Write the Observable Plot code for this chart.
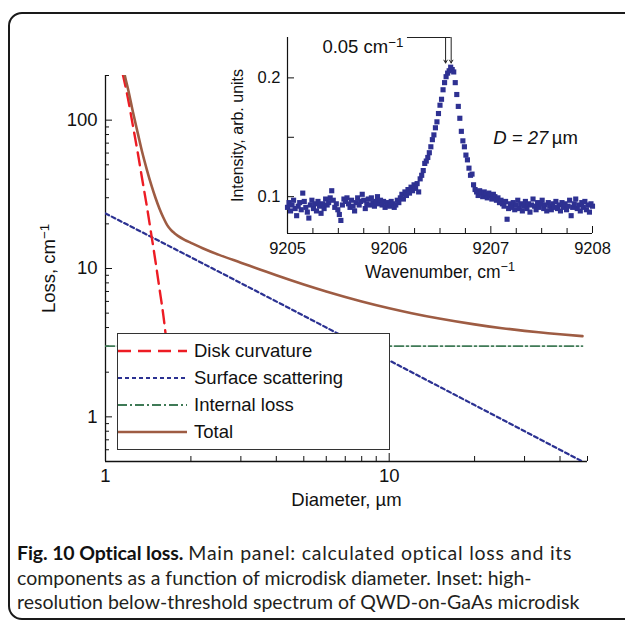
<!DOCTYPE html>
<html><head><meta charset="utf-8">
<script src="https://cdn.jsdelivr.net/npm/d3@7"></script>
<script src="https://cdn.jsdelivr.net/npm/@observablehq/plot@0.6"></script>
<style>
html,body{margin:0;padding:0;background:#fff;width:625px;height:622px;overflow:hidden;}
#wrap{position:relative;width:625px;height:622px;}
#frame{position:absolute;left:8px;top:12px;width:700px;height:604px;border:2px solid #1a1a1a;border-radius:14px;}
#main{position:absolute;left:0;top:0;}
#inset{position:absolute;left:200px;top:10px;}
#legend{position:absolute;left:117px;top:333px;}
#caption{position:absolute;left:17px;top:541px;white-space:nowrap;font-family:Lato,'Open Sans',sans-serif;font-size:19.5px;line-height:24.5px;color:#231f20;}
#caption b{font-weight:700;color:#111;letter-spacing:-0.1px;}
#caption .l1{letter-spacing:0.75px;}
</style></head>
<body><div id="wrap"><div id="frame"></div><div id="main"></div><div id="inset"></div><div id="legend"></div>
<div id="caption"><b>Fig. 10 Optical loss.</b> <span class="l1">Main panel: calculated optical loss and its</span><br>components as a function of microdisk diameter. Inset: high-<br>resolution below-threshold spectrum of QWD-on-GaAs microdisk</div></div>
<script>
// ---------- Main panel data ----------
const diskDiameter = [1.15, 1.2, 1.25, 1.3, 1.35, 1.4, 1.45, 1.5, 1.55, 1.6, 1.65, 1.7];
const diskLoss     = [205, 140, 91, 60, 39, 26, 17, 11.2, 7.3, 4.8, 2.9, 1.7];

const surfaceDiameter = [1, 2, 5, 10, 20, 48];
const surfaceLoss     = [23.5, 11.9, 4.8, 2.4, 1.2, 0.5];

const internalDiameter = [1, 48];
const internalLoss     = [3, 3];

const totalDiameter = [1.16, 1.18, 1.2, 1.25, 1.3, 1.35, 1.4, 1.45, 1.5, 1.55, 1.6, 1.65, 1.7, 1.75, 1.8, 1.9, 2, 2.2, 2.5, 3, 3.5, 4, 5, 6, 7, 8, 10, 12, 15, 20, 25, 30, 35, 40, 48];
const totalLoss     = [214, 186, 163, 113, 81.5, 59.8, 46.1, 36.6, 30.0, 25.3, 22.0, 19.6, 18.2, 17.3, 16.6, 15.6, 14.9, 13.7, 12.4, 10.95, 9.86, 9, 7.8, 7, 6.43, 6, 5.4, 5, 4.6, 4.2, 3.96, 3.8, 3.69, 3.6, 3.5];

const seriesNames  = ["Disk curvature", "Surface scattering", "Internal loss", "Total"];
const seriesColors = ["#ed1c24", "#2b3192", "#3f7a56", "#9e5c43"];
const seriesDash   = ["13,7", "4,3", "9,3,2,3", null];
const seriesWidth  = [2.4, 2.2, 1.8, 2.6];

const xMajor = [1, 10];
const xMinor = [2, 3, 4, 5, 6, 7, 8, 9, 20, 30, 40, 50];
const yMajor = [1, 10, 100];
const yMinor = [0.5, 0.6, 0.7, 0.8, 0.9, 2, 3, 4, 5, 6, 7, 8, 9, 20, 30, 40, 50, 60, 70, 80, 90, 200];

// ---------- Inset data ----------
const waveStart = 9205, waveStep = 0.015;
const intensity = [
0.091,0.095,0.088,0.093,0.097,0.090,0.084,0.092,0.095,0.089,
0.103,0.096,0.091,0.087,0.082,0.093,0.097,0.090,0.094,0.088,
0.096,0.092,0.086,0.094,0.090,0.098,0.093,0.095,0.099,0.105,
0.097,0.091,0.094,0.089,0.085,0.080,0.093,0.098,0.096,0.099,
0.094,0.091,0.097,0.092,0.088,0.095,0.099,0.093,0.096,0.102,
0.097,0.090,0.094,0.098,0.093,0.099,0.095,0.092,0.096,0.100,
0.094,0.097,0.093,0.096,0.091,0.095,0.093,0.092,0.096,0.094,
0.091,0.093,0.097,0.095,0.099,0.102,0.098,0.104,0.101,0.106,
0.103,0.108,0.105,0.110,0.107,0.111,0.104,0.115,0.118,0.122,
0.128,0.130,0.133,0.137,0.142,0.148,0.152,0.158,0.163,0.170,
0.177,0.182,0.190,0.196,0.201,0.204,0.206,0.209,0.207,0.205,
0.196,0.186,0.176,0.166,0.155,0.147,0.142,0.135,0.131,0.124,
0.118,0.119,0.110,0.106,0.104,0.101,0.105,0.103,0.100,0.104,
0.102,0.099,0.103,0.101,0.098,0.102,0.100,0.097,0.099,0.095,
0.097,0.094,0.092,0.096,0.081,0.090,0.094,0.091,0.095,0.089,
0.093,0.097,0.090,0.094,0.088,0.092,0.096,0.090,0.094,0.087,
0.093,0.098,0.092,0.089,0.095,0.091,0.094,0.097,0.090,0.093,
0.088,0.095,0.092,0.089,0.094,0.091,0.096,0.090,0.093,0.088,
0.095,0.091,0.094,0.089,0.092,0.097,0.084,0.091,0.094,0.098,
0.090,0.093,0.088,0.095,0.091,0.096,0.089,0.093,0.087,0.094,
0.092];
const insetXMajor = [9205, 9206, 9207, 9208];
const insetXMinor = [9205.25, 9205.5, 9205.75, 9206.25, 9206.5, 9206.75, 9207.25, 9207.5, 9207.75];
const insetYLabeled = [0.1, 0.2];
const insetYTicks = [0.1, 0.15, 0.2];
const arrowPositions = [9206.555, 9206.61];

// ---------- build ----------
const font = "'Liberation Sans', Arial, Helvetica, sans-serif";
const zip = (xs, ys) => xs.map((x, i) => ({x, y: ys[i]}));
const seriesData = [zip(diskDiameter, diskLoss), zip(surfaceDiameter, surfaceLoss), zip(internalDiameter, internalLoss), zip(totalDiameter, totalLoss)];
const drawOrder = [2, 1, 0, 3];

// turn "⁻¹" into a real superscript tspan
function superscripts(svg) {
  svg.querySelectorAll("text").forEach(t => {
    if (t.childElementCount === 0 && t.textContent.includes("⁻¹")) {
      const base = t.textContent.replace("⁻¹", "");
      t.textContent = base;
      const ts = document.createElementNS("http://www.w3.org/2000/svg", "tspan");
      ts.setAttribute("dy", "-0.48em");
      ts.setAttribute("font-size", "0.72em");
      ts.textContent = "−1";
      t.appendChild(ts);
    }
  });
  return svg;
}

const main = Plot.plot({
  width: 625, height: 520,
  marginLeft: 105, marginRight: 38, marginTop: 75, marginBottom: 59,
  style: {fontFamily: font, fontSize: "18px", color: "#111", background: "transparent", overflow: "visible"},
  x: {type: "log", domain: [1, 50]},
  y: {type: "log", domain: [0.5, 200]},
  marks: [
    Plot.axisY(yMajor, {tickSize: 0, tickPadding: 8, tickFormat: d => String(d), label: null, fontSize: 18.5}),
    Plot.axisY(yMajor, {tickSize: 7, dx: 7, tickFormat: () => "", label: null}),
    Plot.axisY(yMinor, {tickSize: 4, dx: 4, tickFormat: () => "", label: null}),
    Plot.axisX(xMajor, {tickSize: 0, tickPadding: 7, tickFormat: d => String(d), label: null, fontSize: 18.5}),
    Plot.axisX(xMajor, {tickSize: 8, dy: -8, tickFormat: () => "", label: null}),
    Plot.axisX(xMinor, {tickSize: 5, dy: -5, tickFormat: () => "", label: null}),
    Plot.ruleX([1], {stroke: "#111", strokeWidth: 1.3}),
    Plot.ruleY([0.5], {stroke: "#111", strokeWidth: 1.3}),
    ...drawOrder.map(i => Plot.line(seriesData[i], {
      x: "x", y: "y", stroke: seriesColors[i], strokeWidth: seriesWidth[i],
      strokeDasharray: seriesDash[i], clip: true, curve: "monotone-x"
    })),
    Plot.text(["Diameter, µm"], {frameAnchor: "bottom", dy: 44, fontSize: 18.5, fill: "#111"}),
    Plot.text(["Loss, cm⁻¹"], {frameAnchor: "left", dx: -56, rotate: -90, textAnchor: "middle", fontSize: 18.5, fill: "#111"})
  ]
});
document.getElementById("main").appendChild(superscripts(main));

const spectrum = intensity.map((v, i) => ({w: waveStart + i * waveStep, v}));
const yTop = 0.234, yBot = 0.069;
const inset = Plot.plot({
  width: 420, height: 290,
  marginLeft: 87, marginRight: 28, marginTop: 27, marginBottom: 67,
  style: {fontFamily: font, fontSize: "16px", color: "#111", background: "transparent", overflow: "visible"},
  x: {domain: [9205, 9208]},
  y: {domain: [yBot, yTop]},
  marks: [
    Plot.axisX(insetXMajor, {tickSize: 0, tickPadding: 9, tickFormat: d => String(d), label: null, fontSize: 16.5}),
    Plot.axisX(insetXMajor, {tickSize: 7, dy: -7, tickFormat: () => "", label: null}),
    Plot.axisX(insetXMinor, {tickSize: 5, dy: -5, tickFormat: () => "", label: null}),
    Plot.axisY(insetYLabeled, {tickSize: 0, tickPadding: 7, tickFormat: d => d.toFixed(1), label: null, fontSize: 16.5}),
    Plot.axisY(insetYTicks, {tickSize: 7, dx: 7, tickFormat: () => "", label: null}),
    Plot.ruleX([9205], {stroke: "#111", strokeWidth: 1.2}),
    Plot.ruleY([yBot], {stroke: "#111", strokeWidth: 1.2}),
    Plot.dot(spectrum, {x: "w", y: "v", symbol: "square", r: 2.9, fill: "#2e3192", stroke: null}),
    Plot.ruleY([yTop], {x1: 9206.18, x2: 9206.61, stroke: "#222", strokeWidth: 1}),
    Plot.arrow(arrowPositions, {x1: d => d, x2: d => d, y1: yTop, y2: 0.2125, stroke: "#222", strokeWidth: 1, headLength: 5}),
    Plot.text(["0.05 cm⁻¹"], {x: 9206.14, y: 0.2258, textAnchor: "end", fontSize: 18.5, fill: "#111"}),
    Plot.text(["D = 27"], {x: 9207.566, y: 0.1496, textAnchor: "end", fontSize: 18.5, fontStyle: "italic", fill: "#111"}),
    Plot.text(["µm"], {x: 9207.60, y: 0.1496, textAnchor: "start", fontSize: 18.5, fill: "#111"}),
    Plot.text(["Wavenumber, cm⁻¹"], {frameAnchor: "bottom", dy: 44, fontSize: 17.5, fill: "#111"}),
    Plot.text(["Intensity, arb. units"], {frameAnchor: "left", dx: -50, rotate: -90, textAnchor: "middle", fontSize: 16, fill: "#111"})
  ]
});
document.getElementById("inset").appendChild(superscripts(inset));

// ---------- legend ----------
const lg = d3.select("#legend").append("svg").attr("width", 273).attr("height", 117)
  .style("font-family", font).style("font-size", "18.5px");
lg.append("rect").attr("x", 0.5).attr("y", 0.5).attr("width", 272).attr("height", 116)
  .attr("fill", "#fff").attr("stroke", "#333").attr("stroke-width", 1);
seriesNames.forEach((name, i) => {
  const cy = 18 + i * 27;
  lg.append("line").attr("x1", 1).attr("x2", 70).attr("y1", cy).attr("y2", cy)
    .attr("stroke", seriesColors[i]).attr("stroke-width", seriesWidth[i])
    .attr("stroke-dasharray", seriesDash[i]);
  lg.append("text").attr("x", 77).attr("y", cy).attr("dy", "0.35em").attr("fill", "#111").text(name);
});
</script>
</body></html>
